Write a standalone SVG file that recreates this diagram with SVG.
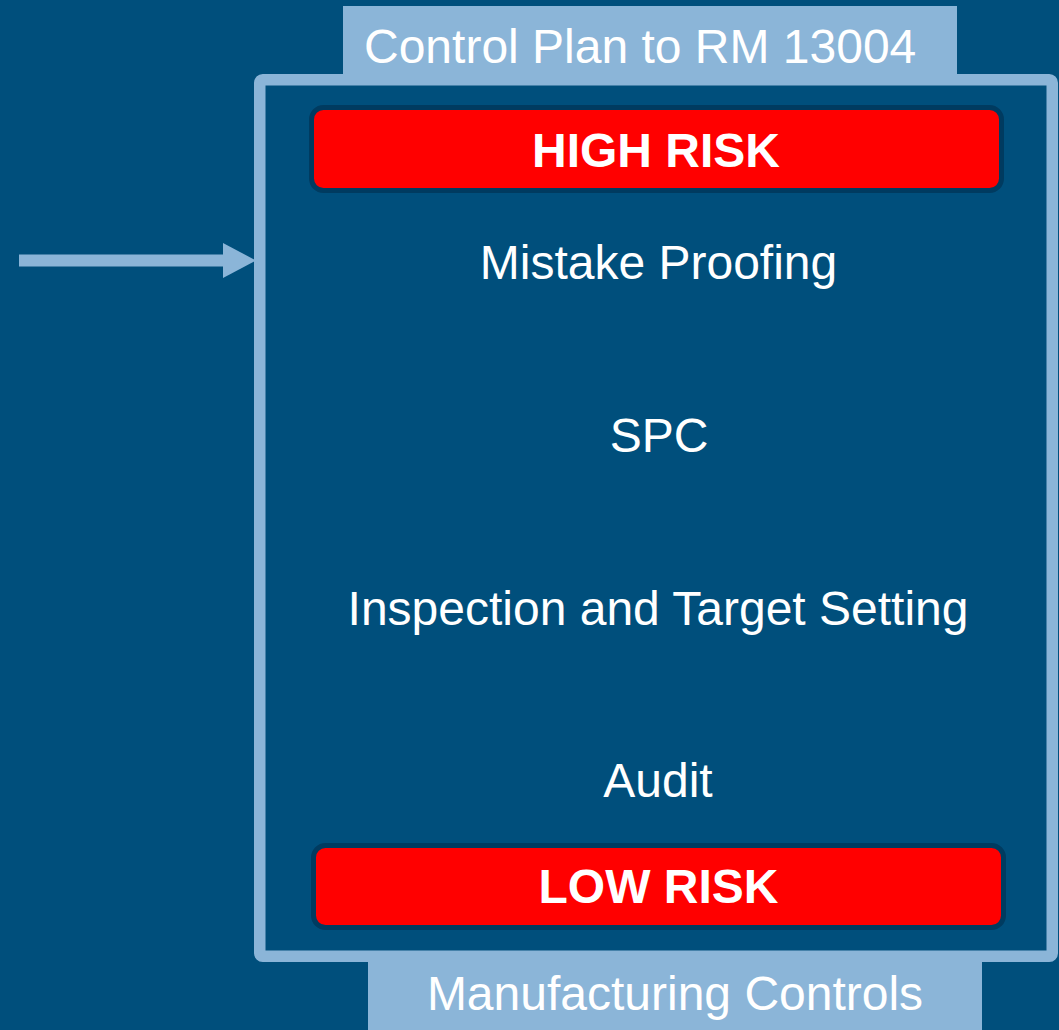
<svg xmlns="http://www.w3.org/2000/svg" width="1059" height="1030" viewBox="0 0 1059 1030">
  <style>
    .lbl { font-family: "Liberation Sans", Arial, sans-serif; font-size: 48px; fill: #ffffff; }
    .bold { font-weight: bold; }
    .tab { fill: #8BB5D8; }
    .risk { fill: #FF0000; stroke: #003B60; stroke-width: 5; }
  </style>
  <rect x="0" y="0" width="1059" height="1030" fill="#004F7C"/>
  <g id="tab-top">
    <rect class="tab" x="343" y="6" width="614" height="70"/>
    <text class="lbl" x="364" y="63">Control Plan to RM 13004</text>
  </g>
  <g id="tab-bottom">
    <rect class="tab" x="368" y="960" width="614" height="70"/>
    <text class="lbl" x="675" y="1010" text-anchor="middle">Manufacturing Controls</text>
  </g>
  <g id="frame">
    <rect x="259.75" y="79.75" width="792.5" height="876.5" rx="3" fill="none" stroke="#8BB5D8" stroke-width="11.5"/>
  </g>
  <g id="high-risk">
    <rect class="risk" x="311.5" y="107.5" width="690" height="83" rx="12"/>
    <text class="lbl bold" x="656" y="167" text-anchor="middle">HIGH RISK</text>
  </g>
  <g id="mistake-proofing">
    <text class="lbl" x="658.5" y="279" text-anchor="middle">Mistake Proofing</text>
  </g>
  <g id="spc">
    <text class="lbl" x="659" y="452" text-anchor="middle">SPC</text>
  </g>
  <g id="inspection">
    <text class="lbl" x="658" y="625" text-anchor="middle">Inspection and Target Setting</text>
  </g>
  <g id="audit">
    <text class="lbl" x="658" y="797" text-anchor="middle">Audit</text>
  </g>
  <g id="low-risk">
    <rect class="risk" x="313.5" y="845.5" width="690" height="82" rx="12"/>
    <text class="lbl bold" x="658.5" y="903" text-anchor="middle">LOW RISK</text>
  </g>
  <g id="connectors">
    <rect x="19" y="254.5" width="206" height="12" fill="#8BB5D8"/>
    <polygon points="223,243 256,260.5 223,278" fill="#8BB5D8"/>
  </g>
</svg>
